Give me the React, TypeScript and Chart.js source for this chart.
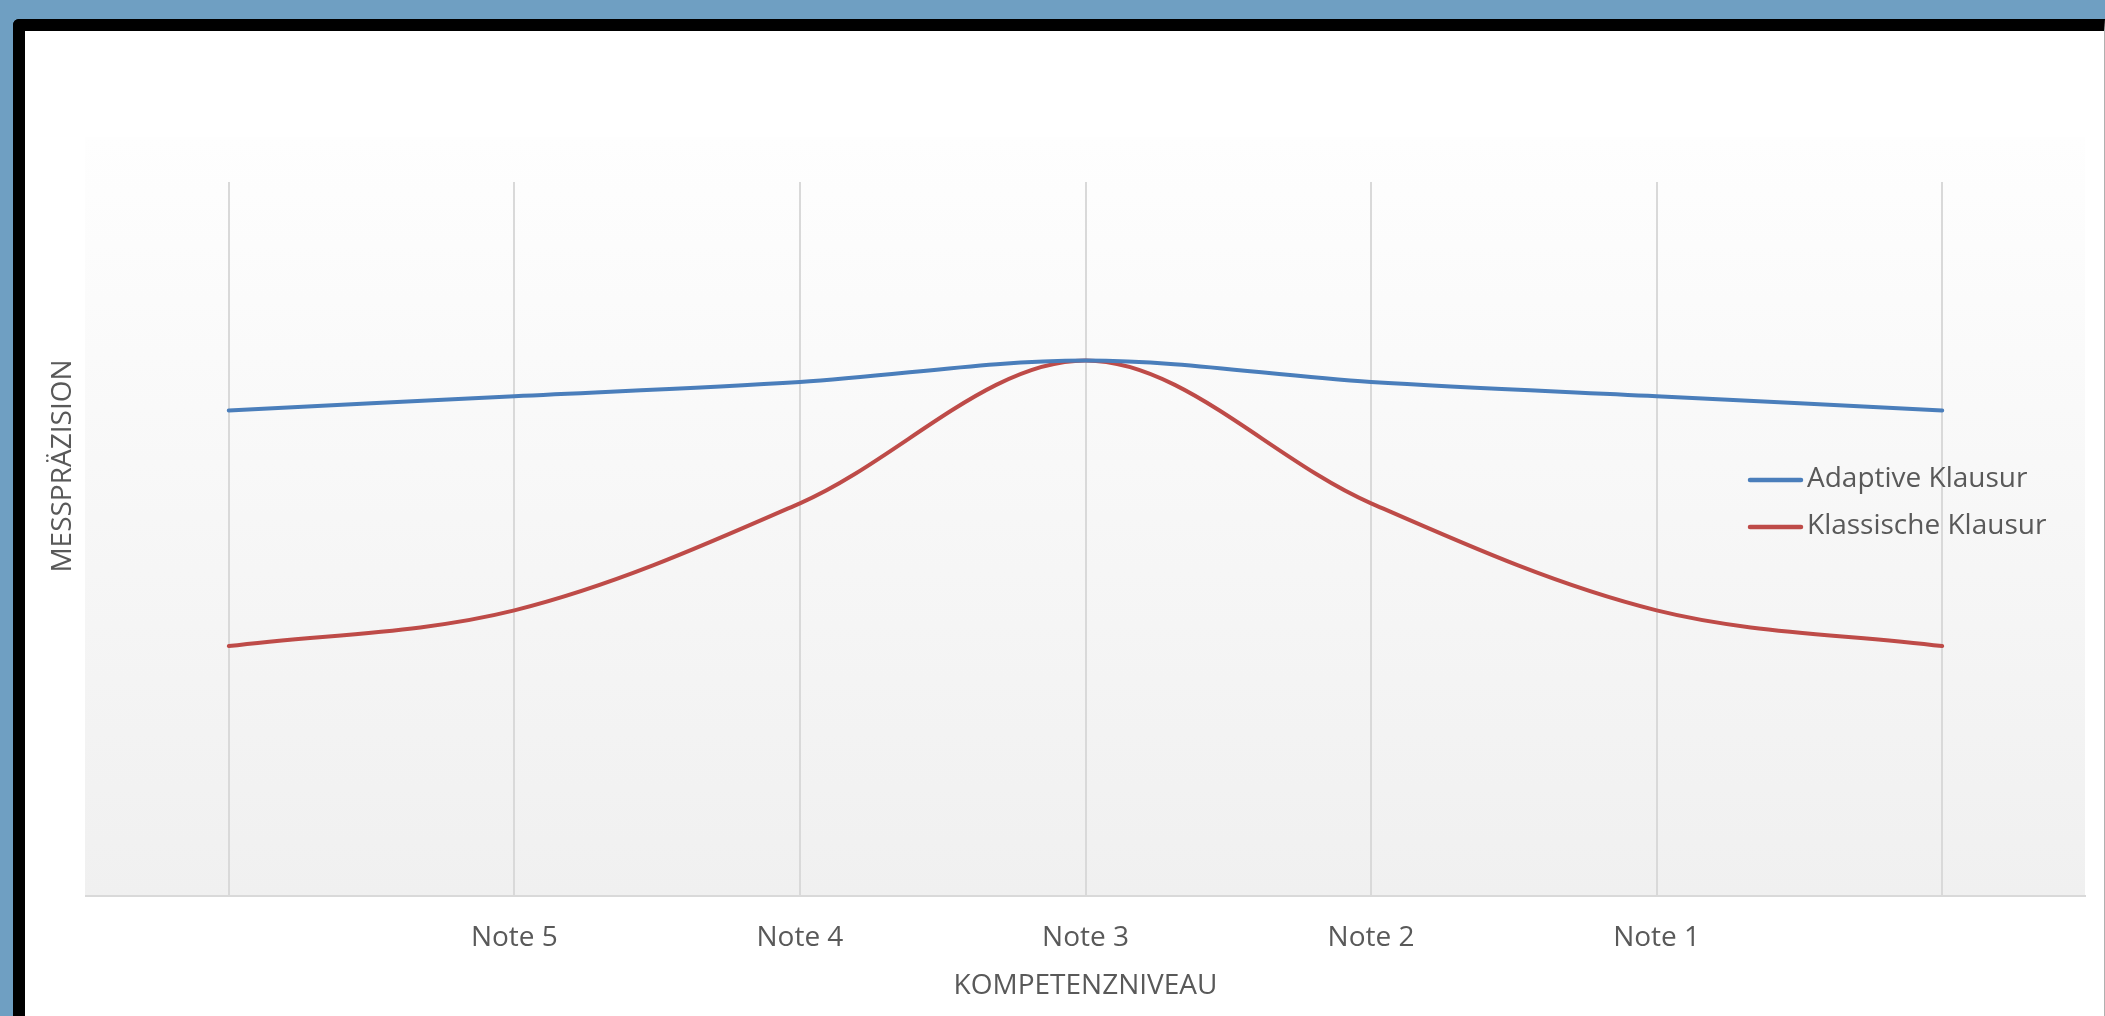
import React, { useEffect, useRef } from "react";
import { Chart, registerables } from "chart.js";

Chart.register(...registerables);

// ---- data ----
const categories = ["", "Note 5", "Note 4", "Note 3", "Note 2", "Note 1", ""];
const adaptiveValues = [68, 70, 72, 75, 72, 70, 68];
const classicValues = [35, 40, 55, 75, 55, 40, 35];
const seriesNames = ["Adaptive Klausur", "Klassische Klausur"];
const xAxisTitle = "KOMPETENZNIVEAU";
const yAxisTitle = "MESSPRÄZISION";
const yMin = 0;
const yMax = 100;

// ---- styling ----
const W = 2105;
const H = 1016;
const BLUE = "#4A7EBB";
const RED = "#BE4B48";
const TEXT = "#595959";
const GRID = "#D9D9D9";
const FONT = "'Open Sans', 'Noto Sans', sans-serif";

const decor = {
  id: "decor",
  beforeDraw(chart: any) {
    const { ctx, chartArea } = chart;
    const top = 137;
    const g = ctx.createLinearGradient(0, top, 0, chartArea.bottom);
    g.addColorStop(0, "#FEFEFE");
    g.addColorStop(1, "#F0F0F0");
    ctx.save();
    ctx.fillStyle = g;
    ctx.fillRect(chartArea.left - 1, top, chartArea.right - chartArea.left + 1, chartArea.bottom - top);
    ctx.restore();
  },
  afterDraw(chart: any) {
    const { ctx, chartArea } = chart;
    ctx.save();
    ctx.fillStyle = TEXT;
    ctx.font = `28px ${FONT}`;
    ctx.textAlign = "center";
    ctx.textBaseline = "middle";
    // x axis title
    ctx.fillText(xAxisTitle, (chartArea.left + chartArea.right) / 2, 986);
    // y axis title
    ctx.save();
    ctx.translate(63, 466);
    ctx.rotate(-Math.PI / 2);
    ctx.fillText(yAxisTitle, 0, 0);
    ctx.restore();
    // legend
    const legendY = [480, 527];
    ctx.font = `28px ${FONT}`;
    ctx.textAlign = "left";
    chart.data.datasets.forEach((ds: any, i: number) => {
      const y = legendY[i];
      ctx.strokeStyle = ds.borderColor;
      ctx.lineWidth = 4.5;
      ctx.lineCap = "round";
      ctx.beginPath();
      ctx.moveTo(1750, y);
      ctx.lineTo(1801, y);
      ctx.stroke();
      ctx.fillStyle = TEXT;
      ctx.fillText(ds.label, 1807, y - 1);
    });
    ctx.restore();
  },
};

export default function App() {
  const canvasRef = useRef<HTMLCanvasElement | null>(null);

  useEffect(() => {
    let chart: Chart | null = null;
    let cancelled = false;
    const make = () => {
      if (cancelled || !canvasRef.current) return;
      chart = new Chart(canvasRef.current, {
        type: "line",
        data: {
          labels: categories,
          datasets: [
            {
              label: seriesNames[0],
              data: adaptiveValues,
              borderColor: BLUE,
              backgroundColor: BLUE,
              borderWidth: 4,
              pointRadius: 0,
              tension: 0.34,
              fill: false,
              borderCapStyle: "round",
            },
            {
              label: seriesNames[1],
              data: classicValues,
              borderColor: RED,
              backgroundColor: RED,
              borderWidth: 4,
              pointRadius: 0,
              tension: 0.34,
              fill: false,
              borderCapStyle: "round",
            },
          ],
        },
        options: {
          responsive: false,
          animation: false,
          devicePixelRatio: 1,
          layout: { padding: { left: 86, right: 20, top: 182, bottom: 0 } },
          plugins: {
            legend: { display: false },
            tooltip: { enabled: false },
            title: { display: false },
          },
          scales: {
            x: {
              type: "category",
              offset: true,
              grid: { display: true, offset: false, color: GRID, lineWidth: 2, drawTicks: false },
              border: { display: true, color: GRID, width: 2 },
              ticks: {
                color: TEXT,
                font: { family: FONT, size: 28 },
                padding: 25,
                autoSkip: false,
                maxRotation: 0,
              },
              afterFit: (s: any) => {
                s.height = 120;
              },
            },
            y: { display: false, min: yMin, max: yMax },
          },
        },
        plugins: [decor],
      } as any);
    };
    const fontsReady = (document as any).fonts
      ? Promise.all([(document as any).fonts.load(`28px "Open Sans"`)]).catch(() => null)
      : Promise.resolve(null);
    fontsReady.then(make);
    return () => {
      cancelled = true;
      if (chart) chart.destroy();
    };
  }, []);

  return (
    <div
      style={{
        position: "fixed",
        left: 0,
        top: 0,
        width: W,
        height: H,
        overflow: "hidden",
        background: "#6F9FC2",
      }}
    >
      <div
        style={{
          position: "absolute",
          left: 13,
          top: 19,
          width: W - 13,
          height: H,
          boxSizing: "border-box",
          background: "#FFFFFF",
          borderTop: "12px solid #000",
          borderLeft: "12px solid #000",
          borderRight: "1px solid #B0B0B0",
          borderTopLeftRadius: 6,
        }}
      />
      <canvas
        ref={canvasRef}
        width={W}
        height={H}
        style={{ position: "absolute", left: 0, top: 0, width: W, height: H }}
      />
    </div>
  );
}
